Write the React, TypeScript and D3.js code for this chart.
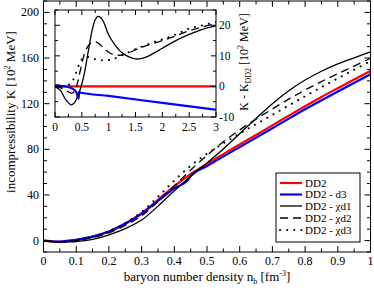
import React from "react";
import * as d3 from "d3";

// ---------- main plot data (K in 10^2 MeV vs n_b in fm^-3) ----------
const nMain = [0, 0.02, 0.04, 0.06, 0.08, 0.1, 0.15, 0.2, 0.25, 0.3, 0.35, 0.4, 0.45, 0.5, 0.55, 0.6, 0.65, 0.7, 0.75, 0.8, 0.85, 0.9, 0.95, 1.0];
const kDD2 = [0, -0.6, -1.0, -0.8, -0.3, 0.5, 3.4, 8.0, 15.0, 24.0, 35.8, 47.8, 58.3, 67.3, 75.8, 84.2, 92.6, 101.0, 109.5, 117.8, 125.9, 133.6, 141.2, 148.6];
const kChiD1 = [0, -0.7, -1.3, -1.4, -1.2, -0.8, 1.0, 5.0, 10.5, 18.0, 30.2, 43.6, 56.3, 68.1, 80.3, 93.7, 107.1, 120.0, 131.3, 140.7, 148.4, 154.9, 160.2, 165.4];
const kChiD2 = [0, -0.6, -1.1, -1.0, -0.6, 0.1, 2.5, 6.8, 13.3, 21.8, 34.0, 47.8, 61.8, 74.8, 86.6, 97.0, 106.5, 115.4, 124.0, 132.0, 139.4, 146.3, 152.9, 159.8];
const kChiD3 = [0, -0.6, -1.0, -0.8, -0.3, 0.5, 3.5, 8.2, 15.3, 25.0, 38.4, 52.6, 65.5, 76.1, 85.2, 93.8, 102.1, 110.2, 118.4, 126.5, 134.5, 142.2, 149.8, 157.2];
const nD3 = [0, 0.02, 0.04, 0.06, 0.08, 0.1, 0.15, 0.2, 0.25, 0.3, 0.35, 0.4, 0.44, 0.45, 0.5, 0.6, 0.7, 0.8, 0.9, 1.0];
const kD3 = [0, -0.5, -0.8, -0.6, -0.1, 0.7, 3.5, 8.0, 14.8, 23.5, 34.8, 45.8, 52.6, 56.5, 65.3, 81.9, 98.5, 115.1, 130.6, 145.8];

// ---------- inset data (K - K_DD2 in 10^2 MeV) ----------
const nInset = [0, 0.1, 0.2, 0.3, 0.35, 0.4, 0.45, 0.5, 0.55, 0.6, 0.65, 0.7, 0.75, 0.8, 0.85, 0.9, 1.0, 1.1, 1.2, 1.3, 1.4, 1.5, 1.6, 1.75, 2.0, 2.25, 2.5, 2.75, 3.0];
const dChiD1 = [0, -1.3, -4.3, -6.0, -5.6, -4.2, -2.0, 0.8, 4.5, 9.5, 14.5, 19.0, 21.8, 22.9, 22.5, 21.3, 16.8, 14.0, 11.8, 10.4, 9.5, 9.0, 9.1, 10.0, 12.5, 15.0, 17.0, 18.7, 19.8];
const dChiD2 = [0, -0.4, -1.2, -2.2, -1.8, 0, 3.5, 7.5, 10.8, 12.8, 13.9, 14.4, 14.5, 14.2, 13.5, 12.7, 11.2, 10.4, 10.2, 10.5, 11.2, 12.0, 12.7, 13.6, 15.0, 16.5, 18.2, 19.5, 20.6];
const dChiD3 = [0, 0, 0.2, 1.0, 2.6, 4.8, 7.2, 8.8, 9.4, 9.6, 9.5, 9.2, 8.9, 8.7, 8.6, 8.6, 8.6, 9.0, 9.8, 10.6, 11.4, 12.2, 12.9, 13.9, 15.4, 17.0, 18.9, 20.0, 21.0];
const nInsetD3 = [0, 0.05, 0.1, 0.2, 0.3, 0.35, 0.4, 0.44, 0.45, 0.47, 1.0, 2.0, 3.0];
const dD3 = [0.3, 0.4, 0.2, 0, -0.5, -1.0, -2.0, -4.0, -1.8, -2.0, -3.1, -5.4, -7.6];
const nInsetDD2 = [0, 3];
const dDD2 = [0, 0];

// ---------- ticks / labels ----------
const mainXTicks = [0, 0.1, 0.2, 0.3, 0.4, 0.5, 0.6, 0.7, 0.8, 0.9, 1];
const mainXTickLabels = ["0", "0.1", "0.2", "0.3", "0.4", "0.5", "0.6", "0.7", "0.8", "0.9", "1"];
const mainYTicks = [0, 40, 80, 120, 160, 200];
const insetXTicks = [0, 0.5, 1, 1.5, 2, 2.5, 3];
const insetXTickLabels = ["0", "0.5", "1", "1.5", "2", "2.5", "3"];
const insetYTicks = [-10, 0, 10, 20];

const legendNames = ["DD2", "DD2 - d3", "DD2 - \u03c7d1", "DD2 - \u03c7d2", "DD2 - \u03c7d3"];

const FONT = "'Liberation Serif', 'DejaVu Serif', serif";

type Style = { stroke: string; width: number; dash?: string; cap?: string };
const styles: Style[] = [
  { stroke: "#ff0000", width: 2.2 },
  { stroke: "#0000ff", width: 2.2 },
  { stroke: "#000", width: 1.3 },
  { stroke: "#000", width: 1.3, dash: "8 5" },
  { stroke: "#000", width: 2, dash: "0.1 7", cap: "round" },
];

export default function App() {
  const W = 374, H = 288;
  const x = d3.scaleLinear().domain([0, 1]).range([43.5, 370.5]);
  const y = d3.scaleLinear().domain([-10, 210]).range([252, 1]);
  const xi = d3.scaleLinear().domain([0, 3]).range([55, 216]);
  const yi = d3.scaleLinear().domain([-10, 25]).range([117, 10]);

  const mk = (xs: number[], ys: number[], sx: any, sy: any, curve: any = d3.curveMonotoneX) =>
    d3.line<number>().x((_, i) => sx(xs[i])).y((v) => sy(v)).curve(curve)(ys) || "";

  const smooth = d3.curveCatmullRom.alpha(0.5);
  const mainSeries = [
    mk(nMain, kDD2, x, y, smooth),
    mk(nD3, kD3, x, y),
    mk(nMain, kChiD1, x, y, smooth),
    mk(nMain, kChiD2, x, y, smooth),
    mk(nMain, kChiD3, x, y, smooth),
  ];
  const insetSeries = [
    mk(nInsetDD2, dDD2, xi, yi),
    mk(nInsetD3, dD3, xi, yi),
    mk(nInset, dChiD1, xi, yi, smooth),
    mk(nInset, dChiD2, xi, yi, smooth),
    mk(nInset, dChiD3, xi, yi, smooth),
  ];

  const [x0, x1] = x.range();
  const [yb, yt] = y.range();
  const [ix0, ix1] = xi.range();
  const [iyb, iyt] = yi.range();

  const ticksEls: React.ReactNode[] = [];
  d3.range(0, 1.0001, 0.05).forEach((v, i) => {
    const major = i % 2 === 0;
    const len = major ? 6 : 3.5;
    const px = x(v);
    ticksEls.push(<line key={"mxb" + i} x1={px} x2={px} y1={yb} y2={yb - len} stroke="#000" />);
    ticksEls.push(<line key={"mxt" + i} x1={px} x2={px} y1={yt} y2={yt + len} stroke="#000" />);
  });
  d3.range(-10, 210.001, 10).forEach((v, i) => {
    const major = Math.round(v) % 40 === 0;
    const len = major ? 6 : 3.5;
    const py = y(v);
    ticksEls.push(<line key={"myl" + i} x1={x0} x2={x0 + len} y1={py} y2={py} stroke="#000" />);
    ticksEls.push(<line key={"myr" + i} x1={x1} x2={x1 - len} y1={py} y2={py} stroke="#000" />);
  });

  const insetTicks: React.ReactNode[] = [];
  d3.range(0, 3.0001, 0.25).forEach((v, i) => {
    const major = i % 2 === 0;
    const len = major ? 5 : 3;
    const px = xi(v);
    insetTicks.push(<line key={"ixb" + i} x1={px} x2={px} y1={iyb} y2={iyb - len} stroke="#000" />);
    insetTicks.push(<line key={"ixt" + i} x1={px} x2={px} y1={iyt} y2={iyt + len} stroke="#000" />);
  });
  d3.range(-10, 25.001, 5).forEach((v, i) => {
    const major = Math.round(v) % 10 === 0;
    const len = major ? 5 : 3;
    const py = yi(v);
    insetTicks.push(<line key={"iyl" + i} x1={ix0} x2={ix0 + len} y1={py} y2={py} stroke="#000" />);
    insetTicks.push(<line key={"iyr" + i} x1={ix1} x2={ix1 - len} y1={py} y2={py} stroke="#000" />);
  });

  const legX = 276, legY = 173, legW = 84, legH = 69;
  const legRows = [183, 194.5, 206, 218, 230];

  return (
    <svg width={W} height={H} viewBox={`0 0 ${W} ${H}`} style={{ position: "absolute", left: 0, top: 0 }} fontFamily={FONT}>
      <rect x={0} y={0} width={W} height={H} fill="#fff" />
      <defs>
        <clipPath id="mainclip"><rect x={x0} y={yt} width={x1 - x0} height={yb - yt} /></clipPath>
        <clipPath id="insetclip"><rect x={ix0} y={iyt} width={ix1 - ix0} height={iyb - iyt} /></clipPath>
      </defs>
      <g fill="none" clipPath="url(#mainclip)">
        {mainSeries.map((d, i) => (
          <path key={i} d={d} stroke={styles[i].stroke} strokeWidth={styles[i].width}
            strokeDasharray={styles[i].dash} strokeLinecap={(styles[i].cap as any) || "butt"} />
        ))}
      </g>
      {ticksEls}
      <rect x={x0} y={yt} width={x1 - x0} height={yb - yt} fill="none" stroke="#000" strokeWidth={1} />
      {mainXTicks.map((v, i) => (
        <text key={"mxl" + i} x={x(v)} y={265} fontSize={12} textAnchor="middle">{mainXTickLabels[i]}</text>
      ))}
      {mainYTicks.map((v) => (
        <text key={"myl" + v} x={39} y={y(v) + 4} fontSize={12} textAnchor="end">{v}</text>
      ))}
      <text x={207} y={281} fontSize={13} textAnchor="middle">
        baryon number density n<tspan fontSize={8} dy={3}>b</tspan><tspan dy={-3}> [fm</tspan>
        <tspan fontSize={8} dy={-5}>-3</tspan><tspan dy={5}>]</tspan>
      </text>
      <text transform={`translate(15,112) rotate(-90)`} fontSize={13} textAnchor="middle">
        incompressibility K [10<tspan fontSize={8} dy={-5}>2</tspan><tspan dy={5}> MeV]</tspan>
      </text>

      {/* inset */}
      <rect x={ix0} y={iyt} width={ix1 - ix0} height={iyb - iyt} fill="#fff" />
      <g fill="none" clipPath="url(#insetclip)">
        {insetSeries.map((d, i) => (
          <path key={i} d={d} stroke={styles[i].stroke} strokeWidth={styles[i].width}
            strokeDasharray={styles[i].dash} strokeLinecap={(styles[i].cap as any) || "butt"} />
        ))}
      </g>
      {insetTicks}
      <rect x={ix0} y={iyt} width={ix1 - ix0} height={iyb - iyt} fill="none" stroke="#000" strokeWidth={1} />
      {insetXTicks.map((v, i) => (
        <text key={"ixl" + i} x={xi(v)} y={131} fontSize={11.5} textAnchor="middle">{insetXTickLabels[i]}</text>
      ))}
      {insetYTicks.map((v) => (
        <text key={"iyl" + v} x={219} y={yi(v) + 4} fontSize={11.5} textAnchor="start">{v}</text>
      ))}
      <text transform={`translate(248,62) rotate(-90)`} fontSize={12} textAnchor="middle">
        K - K<tspan fontSize={8} dy={3}>DD2</tspan><tspan dy={-3}> [10</tspan>
        <tspan fontSize={8} dy={-5}>2</tspan><tspan dy={5}> MeV]</tspan>
      </text>

      {/* legend */}
      <rect x={legX} y={legY} width={legW} height={legH} fill="#fff" stroke="#000" strokeWidth={1} />
      {legendNames.map((name, i) => (
        <g key={name}>
          <line x1={280} x2={302} y1={legRows[i]} y2={legRows[i]} stroke={styles[i].stroke}
            strokeWidth={styles[i].width} strokeDasharray={styles[i].dash}
            strokeLinecap={(styles[i].cap as any) || "butt"} />
          <text x={305} y={legRows[i] + 3.5} fontSize={11}>{name}</text>
        </g>
      ))}
    </svg>
  );
}
